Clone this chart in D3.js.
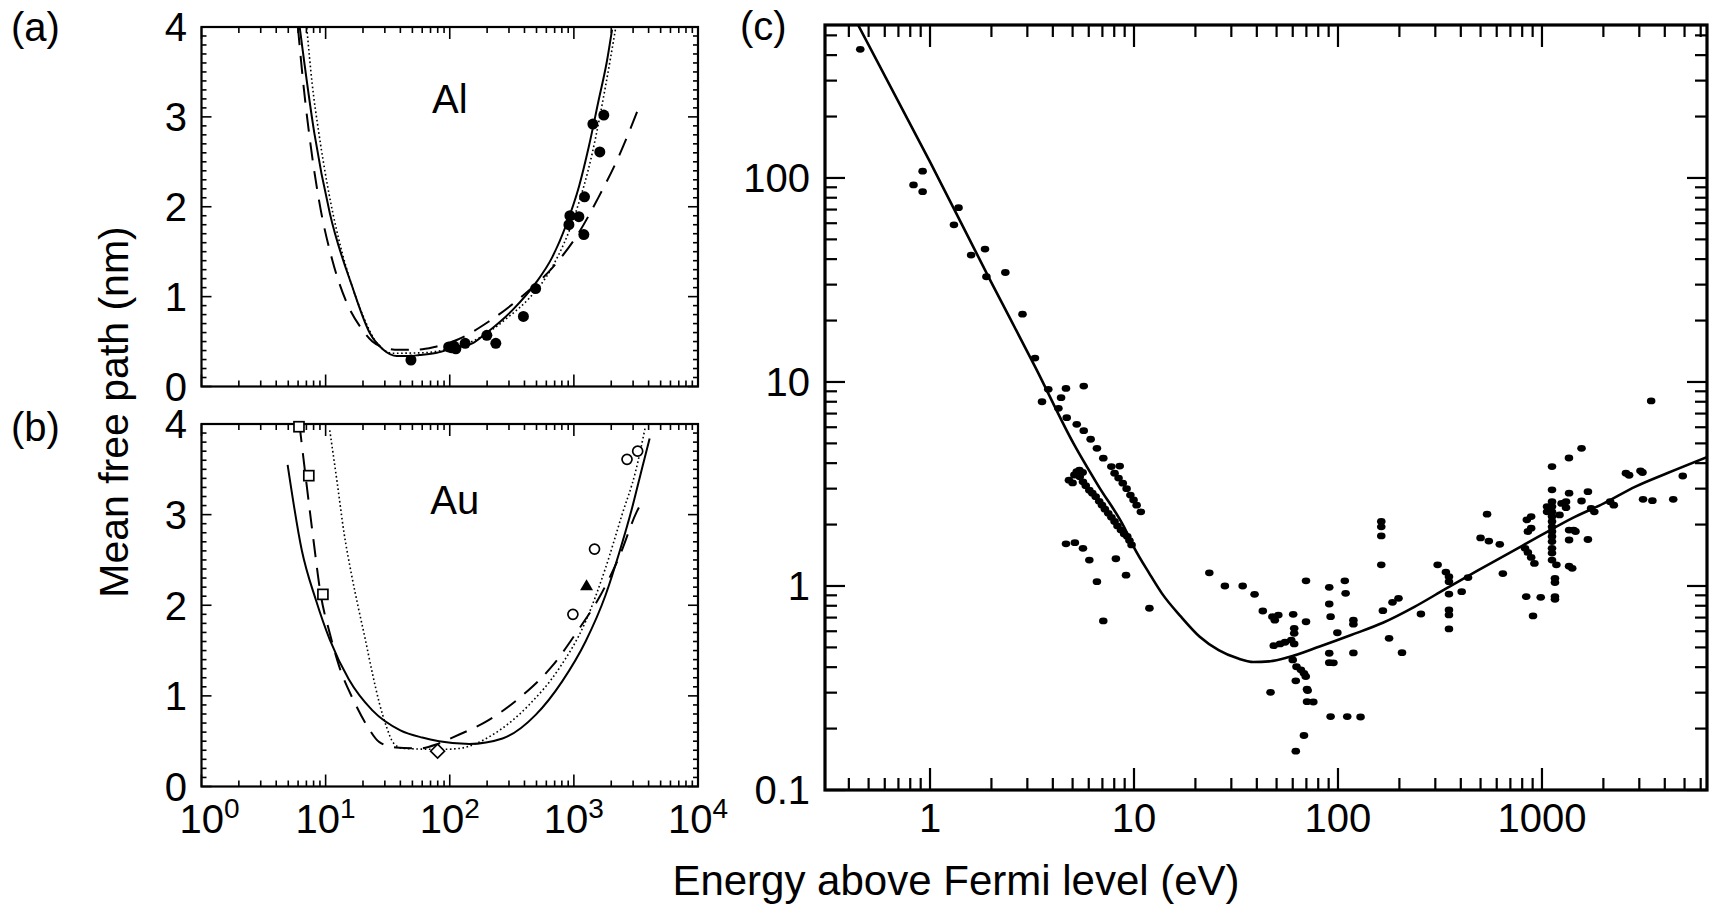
<!DOCTYPE html>
<html>
<head>
<meta charset="utf-8">
<script src="https://cdn.jsdelivr.net/npm/d3@7"></script>
<style>
  body { margin: 0; background: #fff; }
  text { font-family: "Liberation Sans", Arial, Helvetica, sans-serif; fill: #000; }
</style>
</head>
<body>
<svg id="chart" width="1709" height="905"></svg>
<script>
// ---- data: [energy eV, mean free path nm] ----
var alSolid = [[6.18,4.0],[8.11,2.82],[10.8,1.93],[16.4,1.11],[22.8,0.59],[29.2,0.41],[37.4,0.34],[47.9,0.34],[56.9,0.35],[78.7,0.376],[105,0.425],[152,0.48],[195,0.59],[320,0.85],[492,1.15],[670,1.44],[857,1.78],[1097,2.22],[1320,2.67],[1586,3.19],[1852,3.63],[2031,3.97]];
var alDashed = [[5.98,4.0],[6.61,3.37],[7.48,2.74],[8.82,2.08],[11.3,1.41],[14.5,0.96],[19.3,0.65],[23.8,0.5],[30,0.43],[36,0.41],[54,0.41],[75,0.44],[115,0.52],[205,0.72],[380,1.0],[670,1.32],[1083,1.70],[1586,2.11],[2300,2.56],[3390,3.13]];
var alDotted = [[7.05,3.99],[7.79,3.37],[8.82,2.82],[10.4,2.22],[12.8,1.63],[16.4,1.11],[20.1,0.78],[24.8,0.52],[29.2,0.41],[34.5,0.37],[61.2,0.376],[92.7,0.41],[162,0.52],[301,0.78],[435,0.98],[670,1.33],[1032,1.93],[1403,2.59],[1798,3.34],[2160,3.97]];
var alPoints = [[48.7,0.295],[98,0.44],[104,0.43],[108,0.45],[112,0.42],[133,0.48],[199,0.57],[235,0.48],[392,0.78],[492,1.09],[912,1.80],[929,1.90],[1097,1.89],[1203,1.69],[1218,2.11],[1422,2.92],[1618,2.61],[1742,3.02]];

var auSolid = [[4.94,3.55],[6.42,2.61],[8.34,2.06],[10.8,1.62],[15.4,1.18],[23.8,0.84],[40,0.62],[60,0.54],[82,0.5],[144,0.47],[266,0.53],[492,0.79],[805,1.16],[1242,1.6],[1798,2.11],[2297,2.56],[2940,3.07],[3539,3.51],[4077,3.84]];
var auDashed = [[6.15,4.0],[7.0,3.35],[7.98,2.72],[9.1,2.13],[10.8,1.69],[12.9,1.32],[16.8,0.95],[21.8,0.66],[27.1,0.49],[36.8,0.43],[56.9,0.42],[80,0.47],[105,0.54],[204,0.73],[389,1.01],[670,1.33],[1063,1.71],[1638,2.11],[2327,2.54],[3206,3.03],[3497,3.13]];
var auDotted = [[10.8,3.93],[12.4,3.35],[14.1,2.79],[16.1,2.35],[18.3,1.98],[20.9,1.62],[23.8,1.25],[27.1,0.92],[30.9,0.66],[35.2,0.48],[41.9,0.42],[88,0.41],[119,0.42],[221,0.57],[435,0.90],[758,1.30],[1242,1.82],[1798,2.41],[2445,3.0],[3133,3.47],[3767,3.97]];
var auSquares = [[6.1,3.97],[7.32,3.43],[9.51,2.12]];
var auDiamonds = [[79.8,0.39]];
var auCircles = [[982,1.90],[1467,2.62],[2680,3.61],[3266,3.70]];
var auTriangles = [[1265,2.22]];

var uniCurve = [[0.444,562],[1,120],[2,30.7],[3.3,11.7],[5.05,5.0],[6.72,3.07],[8.93,1.95],[9.95,1.56],[11.9,1.15],[13.7,0.92],[17,0.707],[21,0.564],[26,0.485],[32.2,0.442],[38.5,0.424],[46,0.427],[57,0.447],[81.3,0.505],[116,0.575],[166,0.66],[237,0.79],[338,0.97],[483,1.19],[690,1.45],[986,1.77],[1409,2.15],[2011,2.54],[2873,3.07],[4100,3.57],[6650,4.34]];
var uniPoints = [
 [0.455,427],[0.83,92.4],[0.92,108],[0.92,85.7],[1.38,71.5],[1.31,58.9],[1.59,41.9],[1.86,44.8],[1.89,32.8],[2.34,34.4],[2.84,21.5],[3.27,13.1],
 [3.8,9.2],[4.64,9.3],[5.67,9.55],[3.54,8.0],[4.39,8.38],[4.26,7.43],[4.68,6.68],[5.24,6.2],[5.67,5.77],[6.13,5.24],[6.58,4.73],[7.07,4.23],
 [5.24,3.63],[5.42,3.43],[5.62,3.24],[5.8,3.1],[6.04,2.95],[6.25,2.85],[6.49,2.74],[6.75,2.6],[6.97,2.49],[7.2,2.38],[7.48,2.27],[7.75,2.17],
 [8.03,2.07],[8.3,1.97],[8.63,1.88],[8.95,1.8],[9.27,1.75],[9.5,1.67],[9.73,1.59],
 [4.8,3.3],[5.0,3.2],[5.4,3.7],[5.6,3.6],[5.1,3.5],
 [7.74,3.85],[8.51,3.87],[8.03,3.57],[8.4,3.38],[8.81,3.19],[9.2,3.0],[9.6,2.79],[9.95,2.64],[10.3,2.49],[10.8,2.31],
 [4.64,1.61],[5.13,1.63],[5.62,1.53],[6.04,1.34],[6.58,1.05],[7.07,0.674],[8.15,1.36],[9.14,1.13],[11.9,0.778],
 [23.4,1.16],[27.9,1.0],[34.1,1.0],[39.0,0.91],[42.8,0.754],[47.7,0.707],[49,0.68],[51,0.72],[48.4,0.51],[52,0.52],[55,0.53],[46.7,0.301],
 [60.3,0.726],[61,0.62],[61,0.586],[59,0.543],[61,0.52],[60,0.434],[62.6,0.402],[65.8,0.388],[68.1,0.373],[69.5,0.36],[62.1,0.343],
 [70.5,0.312],[71,0.307],[70.5,0.271],[75.7,0.27],[68.1,0.185],[62.1,0.155],[69.7,1.06],[69.7,0.668],
 [90.6,0.985],[90.6,0.816],[92,0.707],[90.6,0.468],[90.6,0.421],[95,0.42],[92,0.229],[111,0.229],[129,0.228],[108,1.06],[109,0.92],
 [99.3,0.59],[119,0.68],[119,0.65],[119,0.47],[163,2.07],[163,1.95],[163,1.76],[163,1.27],[166,0.757],[178,0.554],[185,0.832],[198,0.87],
 [206,0.471],[255,0.729],[308,1.27],[338,1.17],[350,1.11],[350,1.05],[350,0.913],[350,0.763],[350,0.721],[350,0.616],[404,0.938],[434,1.1],
 [538,2.25],[500,1.72],[549,1.66],[621,1.6],[643,1.15],[843,2.11],[885,2.19],[885,1.92],[853,1.85],[826,1.53],[853,1.46],[885,1.38],[918,1.29],
 [837,0.887],[986,0.88],[904,0.713],
 [1120,3.85],[1120,2.96],[1120,2.59],[1120,2.45],[1120,2.31],[1120,2.19],[1120,2.07],[1120,1.95],[1120,1.85],[1120,1.75],[1120,1.65],
 [1120,1.53],[1120,1.45],[1120,1.34],[1177,1.27],[1158,1.09],[1158,1.04],[1158,0.887],[1158,0.86],[1059,2.45],[1059,2.31],[1248,2.54],
 [1219,2.23],[1358,2.85],[1312,2.59],[1312,2.42],[1358,1.88],[1358,1.68],[1407,1.22],[1358,1.25],[1430,1.88],[1460,1.85],[1563,2.61],
 [1680,2.9],[1680,1.69],[1741,2.4],[1806,2.31],[2159,2.59],[2250,2.49],[2580,3.57],[2674,3.49],[3040,3.67],[3110,3.6],[3130,2.66],
 [3478,2.62],[4400,2.66],[4900,3.46],[3430,8.07],[1563,4.73],[1356,4.24]
];

var abXTicks = [1, 10, 100, 1000, 10000];
var abXExp = ["0", "1", "2", "3", "4"];
var abYTicks = [0, 1, 2, 3, 4];
var cXTicks = [1, 10, 100, 1000];
var cXLabels = ["1", "10", "100", "1000"];
var cYTicks = [0.1, 1, 10, 100];
var cYLabels = ["0.1", "1", "10", "100"];

var svg = d3.select("#chart");

// scales
var xAB = d3.scaleLog().domain([1, 1e4]).range([201.5, 698]);
var yA = d3.scaleLinear().domain([0, 4]).range([386.5, 27]);
var yB = d3.scaleLinear().domain([0, 4]).range([786.5, 424]);
var xC = d3.scaleLog().domain([0.3056, 6442]).range([825, 1707]);
var yC = d3.scaleLog().domain([0.1, 562]).range([790, 25]);

function isMajor(v) {
  var l = Math.log10(v);
  return Math.abs(l - Math.round(l)) < 1e-6;
}

function clip(id, x, y) {
  svg.append("clipPath").attr("id", id).append("rect")
    .attr("x", x.range()[0]).attr("y", y.range()[1])
    .attr("width", x.range()[1] - x.range()[0]).attr("height", y.range()[0] - y.range()[1]);
}

// small panels a and b
function smallPanel(id, y, showXLabels) {
  var g = svg.append("g");
  var x0 = xAB.range()[0], x1 = xAB.range()[1], y0 = y.range()[0], y1 = y.range()[1];
  clip(id, xAB, y);

  // x ticks top and bottom
  xAB.ticks().forEach(function(v) {
    var len = isMajor(v) ? 12 : 6;
    g.append("line").attr("x1", xAB(v)).attr("x2", xAB(v)).attr("y1", y0).attr("y2", y0 - len)
      .attr("stroke", "#000").attr("stroke-width", 1.6);
    g.append("line").attr("x1", xAB(v)).attr("x2", xAB(v)).attr("y1", y1).attr("y2", y1 + len)
      .attr("stroke", "#000").attr("stroke-width", 1.6);
  });
  // y ticks left and right
  d3.range(0, 40).forEach(function(i) {
    var v = i / 10;
    var len = (i % 10 === 0) ? 10 : 5;
    g.append("line").attr("x1", x0).attr("x2", x0 + len).attr("y1", y(v)).attr("y2", y(v))
      .attr("stroke", "#000").attr("stroke-width", 1.6);
    g.append("line").attr("x1", x1).attr("x2", x1 - len).attr("y1", y(v)).attr("y2", y(v))
      .attr("stroke", "#000").attr("stroke-width", 1.6);
  });
  g.append("rect").attr("x", x0).attr("y", y1).attr("width", x1 - x0).attr("height", y0 - y1)
    .attr("fill", "none").attr("stroke", "#000").attr("stroke-width", 2.2);

  abYTicks.forEach(function(v) {
    g.append("text").attr("x", 187).attr("y", y(v)).attr("dy", "0.36em")
      .attr("text-anchor", "end").attr("font-size", 40).text(v);
  });

  if (showXLabels) {
    abXTicks.forEach(function(v, i) {
      var t = g.append("text").attr("x", xAB(v) + (i === 0 ? 8 : 0)).attr("y", 833)
        .attr("text-anchor", "middle").attr("font-size", 40);
      t.append("tspan").text("10");
      t.append("tspan").attr("font-size", 28).attr("dy", -15).text(abXExp[i]);
    });
  }
  return g;
}

function drawCurve(g, data, x, y, clipId, dash, width) {
  var line = d3.line().x(function(d) { return x(d[0]); }).y(function(d) { return y(d[1]); })
    .curve(d3.curveMonotoneX);
  g.append("path").datum(data).attr("d", line)
    .attr("clip-path", "url(#" + clipId + ")")
    .attr("fill", "none").attr("stroke", "#000").attr("stroke-width", width)
    .attr("stroke-dasharray", dash);
}

// ---- panel (a): Al ----
var gA = smallPanel("clipA", yA, false);
drawCurve(gA, alDotted, xAB, yA, "clipA", "1.6,2.6", 1.6);
drawCurve(gA, alDashed, xAB, yA, "clipA", "18,11", 2);
drawCurve(gA, alSolid, xAB, yA, "clipA", null, 2);
gA.selectAll(".al").data(alPoints).enter().append("circle")
  .attr("cx", function(d) { return xAB(d[0]); }).attr("cy", function(d) { return yA(d[1]); })
  .attr("r", 5.5).attr("fill", "#000");
gA.append("text").attr("x", xAB(100)).attr("y", 113).attr("text-anchor", "middle")
  .attr("font-size", 40).text("Al");

// ---- panel (b): Au ----
var gB = smallPanel("clipB", yB, true);
drawCurve(gB, auDotted, xAB, yB, "clipB", "1.6,2.6", 1.6);
drawCurve(gB, auDashed, xAB, yB, "clipB", "18,11", 2);
drawCurve(gB, auSolid, xAB, yB, "clipB", null, 2);
gB.selectAll(".sq").data(auSquares).enter().append("rect")
  .attr("x", function(d) { return xAB(d[0]) - 5; }).attr("y", function(d) { return yB(d[1]) - 5; })
  .attr("width", 10).attr("height", 10).attr("fill", "#fff").attr("stroke", "#000").attr("stroke-width", 1.7);
gB.selectAll(".dm").data(auDiamonds).enter().append("path")
  .attr("transform", function(d) { return "translate(" + xAB(d[0]) + "," + yB(d[1]) + ")"; })
  .attr("d", "M0,-7L7,0L0,7L-7,0Z").attr("fill", "#fff").attr("stroke", "#000").attr("stroke-width", 1.6);
gB.selectAll(".oc").data(auCircles).enter().append("circle")
  .attr("cx", function(d) { return xAB(d[0]); }).attr("cy", function(d) { return yB(d[1]); })
  .attr("r", 5).attr("fill", "#fff").attr("stroke", "#000").attr("stroke-width", 1.7);
gB.selectAll(".tr").data(auTriangles).enter().append("path")
  .attr("transform", function(d) { return "translate(" + xAB(d[0]) + "," + yB(d[1]) + ")"; })
  .attr("d", "M0,-6L6.5,5L-6.5,5Z").attr("fill", "#000");
gB.append("text").attr("x", xAB(100) + 5).attr("y", 514).attr("text-anchor", "middle")
  .attr("font-size", 40).text("Au");

// ---- panel (c): universal curve ----
var gC = svg.append("g");
clip("clipC", xC, yC);
var cx0 = xC.range()[0], cx1 = xC.range()[1], cy0 = yC.range()[0], cy1 = yC.range()[1];

xC.ticks().forEach(function(v) {
  var len = isMajor(v) ? 22 : 12;
  gC.append("line").attr("x1", xC(v)).attr("x2", xC(v)).attr("y1", cy0).attr("y2", cy0 - len)
    .attr("stroke", "#000").attr("stroke-width", 2.2);
  gC.append("line").attr("x1", xC(v)).attr("x2", xC(v)).attr("y1", cy1).attr("y2", cy1 + len)
    .attr("stroke", "#000").attr("stroke-width", 2.2);
});
yC.ticks().forEach(function(v) {
  var len = isMajor(v) ? 20 : 12;
  gC.append("line").attr("x1", cx0).attr("x2", cx0 + len).attr("y1", yC(v)).attr("y2", yC(v))
    .attr("stroke", "#000").attr("stroke-width", 2.2);
  gC.append("line").attr("x1", cx1).attr("x2", cx1 - len).attr("y1", yC(v)).attr("y2", yC(v))
    .attr("stroke", "#000").attr("stroke-width", 2.2);
});
gC.append("rect").attr("x", cx0).attr("y", cy1).attr("width", cx1 - cx0).attr("height", cy0 - cy1)
  .attr("fill", "none").attr("stroke", "#000").attr("stroke-width", 3.2);

gC.selectAll(".pt").data(uniPoints).enter().append("ellipse")
  .attr("clip-path", "url(#clipC)")
  .attr("cx", function(d) { return xC(d[0]); }).attr("cy", function(d) { return yC(d[1]); })
  .attr("rx", 4.3).attr("ry", 3.4).attr("fill", "#000");
drawCurve(gC, uniCurve, xC, yC, "clipC", null, 2.6);

cXTicks.forEach(function(v, i) {
  gC.append("text").attr("x", xC(v)).attr("y", 832).attr("text-anchor", "middle")
    .attr("font-size", 40).text(cXLabels[i]);
});
cYTicks.forEach(function(v, i) {
  gC.append("text").attr("x", 810).attr("y", yC(v)).attr("dy", "0.36em").attr("text-anchor", "end")
    .attr("font-size", 40).text(cYLabels[i]);
});

// panel letters and axis titles
svg.append("text").attr("x", 11).attr("y", 41).attr("font-size", 40).text("(a)");
svg.append("text").attr("x", 11).attr("y", 441).attr("font-size", 40).text("(b)");
svg.append("text").attr("x", 740).attr("y", 40).attr("font-size", 40).text("(c)");

svg.append("text").attr("transform", "translate(128,412) rotate(-90)")
  .attr("text-anchor", "middle").attr("font-size", 41).text("Mean free path (nm)");
svg.append("text").attr("x", 956).attr("y", 895).attr("text-anchor", "middle")
  .attr("font-size", 42).text("Energy above Fermi level (eV)");
</script>
</body>
</html>
